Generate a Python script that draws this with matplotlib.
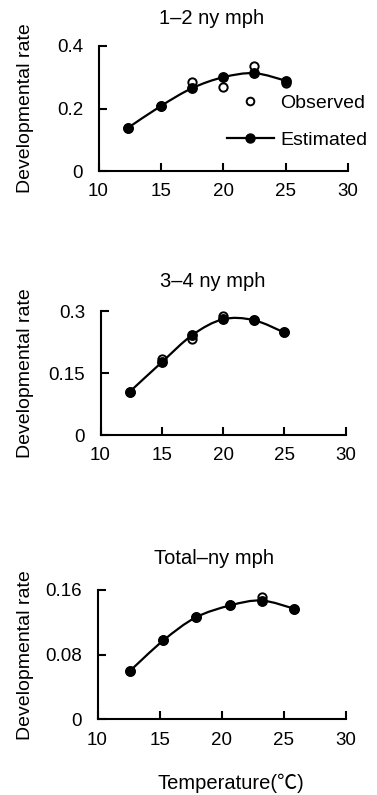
import numpy as np
import matplotlib
matplotlib.use("Agg")
import matplotlib.pyplot as plt
from matplotlib.path import Path
from matplotlib.patches import PathPatch
from matplotlib.lines import Line2D

plt.rcParams['font.family'] = ['Liberation Sans', 'DejaVu Sans']

# ---------------- data ----------------
temp_12 = [12.4, 15.0, 17.5, 20.0, 22.5, 25.0]
obs_12 = [0.139, 0.208, 0.284, 0.269, 0.337, 0.281]
est_12 = [0.139, 0.208, 0.265, 0.300, 0.313, 0.289]

temp_34 = [12.4, 15.0, 17.5, 20.0, 22.5, 25.0]
obs_34 = [0.105, 0.183, 0.232, 0.288, 0.278, 0.250]
est_34 = [0.105, 0.176, 0.242, 0.280, 0.278, 0.248]

temp_tot = [12.6, 15.3, 17.9, 20.7, 23.2, 25.8]
obs_tot = [0.0597, 0.0976, 0.126, 0.141, 0.1515, 0.137]
est_tot = [0.0597, 0.0976, 0.126, 0.141, 0.147, 0.137]

titles = ["1\u20132 ny mph", "3\u20134 ny mph", "Total\u2013ny mph"]
yticks_list = [[0, 0.2, 0.4], [0, 0.15, 0.3], [0, 0.08, 0.16]]
ytick_labels = [["0", "0.2", "0.4"], ["0", "0.15", "0.3"], ["0", "0.08", "0.16"]]
xticks = [10, 15, 20, 25, 30]
ylabel = "Developmental rate"
xlabel = "Temperature(\u2103)"

W, H = 377, 795
fig = plt.figure(figsize=(W / 100, H / 100), dpi=100)

# axes boxes in pixels: left, right, top, bottom
boxes = [(98.5, 348, 46, 171), (100.5, 345.5, 311, 435), (97.5, 346, 590, 719.3)]
title_pos = [(212, 18), (213, 282), (214, 559)]

FS = 13.5


def smooth_path(xs, ys):
    pts = np.column_stack([xs, ys])
    n = len(pts)
    verts = [pts[0]]
    codes = [Path.MOVETO]
    for i in range(n - 1):
        p0 = pts[i - 1] if i > 0 else pts[i]
        p1 = pts[i]
        p2 = pts[i + 1]
        p3 = pts[i + 2] if i + 2 < n else pts[i + 1]
        c1 = p1 + (p2 - p0) / 6.0
        c2 = p2 - (p3 - p1) / 6.0
        verts += [c1, c2, p2]
        codes += [Path.CURVE4] * 3
    return Path(verts, codes)


datasets = [(temp_12, obs_12, est_12), (temp_34, obs_34, est_34), (temp_tot, obs_tot, est_tot)]

for k, ((l, r, t, b), (xs, obs, est)) in enumerate(zip(boxes, datasets)):
    ax = fig.add_axes([l / W, 1 - b / H, (r - l) / W, (b - t) / H])
    yt = yticks_list[k]
    ax.set_xlim(10, 30)
    ax.set_ylim(0, yt[-1])
    for s in ['top', 'right']:
        ax.spines[s].set_visible(False)
    for s in ['left', 'bottom']:
        ax.spines[s].set_linewidth(1.5)
    ax.set_xticks(xticks)
    ax.set_yticks(yt)
    ax.set_yticklabels(ytick_labels[k])
    ax.tick_params(direction='in', length=6, width=1.5, labelsize=FS)
    ax.tick_params(axis='y', pad=11)
    ax.tick_params(axis='x', pad=9)
    ax.patch.set_visible(False)

    ax.plot(xs, obs, linestyle='none', marker='o', markersize=6, markerfacecolor='white',
            markeredgecolor='black', markeredgewidth=1.4, clip_on=False, zorder=3)
    ax.add_patch(PathPatch(smooth_path(xs, est), fill=False, lw=1.6, edgecolor='black',
                           zorder=4, capstyle='round', joinstyle='round'))
    ax.plot(xs, est, linestyle='none', marker='o', markersize=6.8, color='black',
            clip_on=False, zorder=5)

    fig.text(25 / W, 1 - (t + b) / 2 / H, ylabel, fontsize=FS + 0.5, rotation=90,
             ha='center', va='center')

    fig.text(title_pos[k][0] / W, 1 - title_pos[k][1] / H, titles[k], fontsize=FS + 1,
             ha='center', va='center')

    if k == 0:
        h_obs = Line2D([], [], linestyle='none', marker='o', markersize=5.5,
                       markerfacecolor='white', markeredgecolor='black', markeredgewidth=1.4)
        h_est = Line2D([], [], color='black', lw=1.6, marker='o', markersize=6.5)
        ax.legend([h_obs, h_est], ["Observed", "Estimated"], frameon=False,
                  loc='upper left', bbox_to_anchor=(227 / W, 1 - 94 / H),
                  bbox_transform=fig.transFigure, borderaxespad=0, borderpad=0,
                  handlelength=2.4, handletextpad=0.35, labelspacing=1.0,
                  fontsize=FS + 0.5)

fig.text(231 / W, 1 - 783 / H, xlabel, fontsize=FS + 1, ha='center', va='center',
         family=['Liberation Sans', 'Noto Sans CJK KR', 'DejaVu Sans'])

fig.savefig("out.png", dpi=100)
